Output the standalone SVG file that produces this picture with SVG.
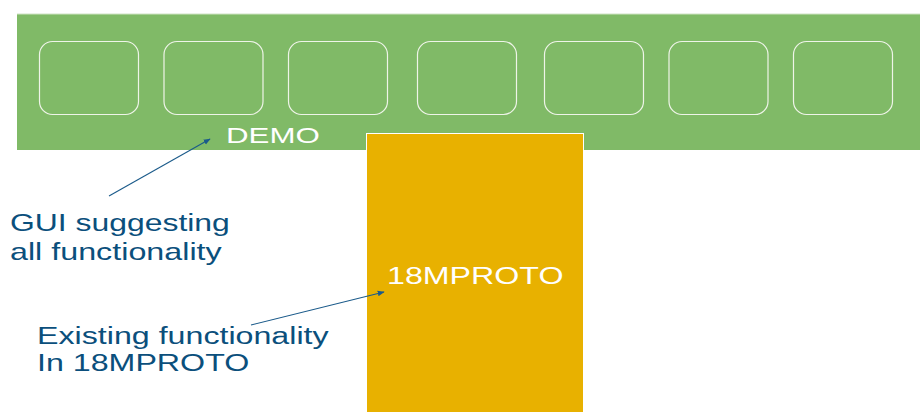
<svg xmlns="http://www.w3.org/2000/svg" width="920" height="412" viewBox="0 0 920 412">
  <style>
    .band { fill: #80BA67; }
    .slot { fill: none; stroke: #EEF4E8; stroke-width: 1.2; }
    .proto { fill: #E8B100; stroke: #FFFFFF; stroke-width: 1; }
    .inner { font-family: "Liberation Sans", Arial, sans-serif; fill: #FFFFFF; }
    .note { font-family: "Liberation Sans", Arial, sans-serif; fill: #0B4F7C; }
    .conn { stroke: #1A5A8A; stroke-width: 1.1; fill: none; }
  </style>
  <defs>
    <marker id="arrow" viewBox="0 0 10 10" refX="9" refY="5" markerWidth="7" markerHeight="7" orient="auto" markerUnits="userSpaceOnUse">
      <path d="M0,1 L10,5 L0,9 z" fill="#1A5A8A"/>
    </marker>
  </defs>

  <rect width="920" height="412" fill="#FFFFFF"/>

  <!-- DEMO band with its GUI slots -->
  <g id="demo">
    <rect class="band" x="17" y="14" width="903" height="136"/>
    <line x1="17" y1="14" x2="920" y2="14" stroke="#CFE3C4" stroke-width="1"/>
    <rect class="slot" x="39.5" y="41.5" width="99" height="73" rx="13"/>
    <rect class="slot" x="164" y="41.5" width="99" height="73" rx="13"/>
    <rect class="slot" x="288.5" y="41.5" width="99" height="73" rx="13"/>
    <rect class="slot" x="417.5" y="41.5" width="99" height="73" rx="13"/>
    <rect class="slot" x="544.5" y="41.5" width="99" height="73" rx="13"/>
    <rect class="slot" x="669" y="41.5" width="99" height="73" rx="13"/>
    <rect class="slot" x="793.5" y="41.5" width="99" height="73" rx="13"/>
    <text class="inner" font-size="22.5" transform="translate(226,143) scale(1.39,1)">DEMO</text>
  </g>

  <!-- 18MPROTO block -->
  <g id="proto">
    <rect class="proto" x="366.5" y="133.5" width="217" height="280"/>
    <text class="inner" font-size="23" transform="translate(387,284) scale(1.4,1)">18MPROTO</text>
  </g>

  <!-- callout labels -->
  <g id="label-gui">
    <text class="note" font-size="24" transform="translate(10,231) scale(1.33,1)">GUI suggesting</text>
    <text class="note" font-size="24" transform="translate(10,260) scale(1.345,1)">all functionality</text>
  </g>
  <g id="label-existing">
    <text class="note" font-size="23" transform="translate(37,344) scale(1.4,1)">Existing functionality</text>
    <text class="note" font-size="23" transform="translate(37,371) scale(1.4,1)">In 18MPROTO</text>
  </g>

  <!-- connectors -->
  <g id="connectors">
    <line class="conn" x1="109" y1="196" x2="210" y2="139" marker-end="url(#arrow)"/>
    <line class="conn" x1="251" y1="325" x2="384" y2="292" marker-end="url(#arrow)"/>
  </g>
</svg>
